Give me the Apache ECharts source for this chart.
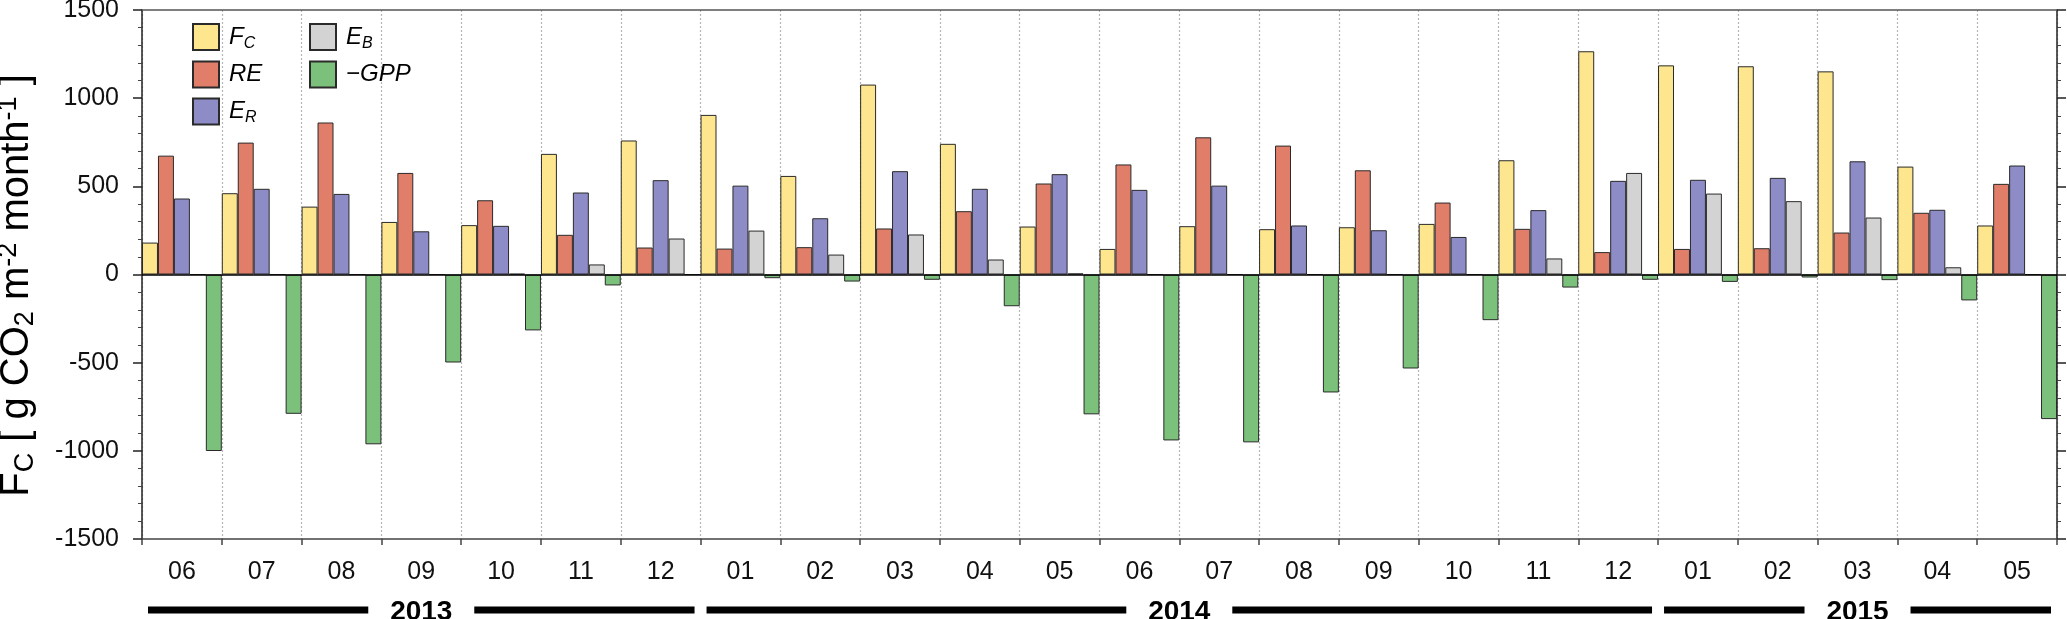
<!DOCTYPE html>
<html>
<head>
<meta charset="utf-8">
<script src="https://cdn.jsdelivr.net/npm/echarts@6/dist/echarts.min.js"></script>
<style>
html,body{margin:0;padding:0;background:#fff;}
#chart{width:2067px;height:619px;}
</style>
</head>
<body>
<div id="chart"></div>
<script>
const months = ['06','07','08','09','10','11','12','01','02','03','04','05','06','07','08','09','10','11','12','01','02','03','04','05'];
const FC  = [181, 461, 385, 298, 280, 684, 760, 905, 559, 1077, 741, 272, 145, 274, 257, 268, 287, 648, 1266, 1186, 1181, 1152, 612, 278];
const RE  = [674, 748, 862, 576, 421, 225, 153, 147, 155, 261, 359, 516, 624, 778, 731, 591, 408, 259, 127, 145, 149, 238, 350, 514];
const ER  = [431, 486, 457, 245, 276, 465, 535, 504, 319, 586, 486, 569, 480, 504, 278, 251, 213, 365, 531, 537, 548, 642, 367, 618];
const EB  = [0, 0, 0, 0, 4, 57, 204, 249, 113, 227, 85, 6, 0, 0, 0, 0, 0, 91, 576, 459, 416, 323, 41, 0];
const GPP = [-1001, -790, -963, -499, -317, -62, 0, -21, -40, -30, -180, -793, -941, -952, -669, -533, -259, -74, -30, -42, -17, -32, -147, -820];
const yTicks = [-1500, -1000, -500, 0, 500, 1000, 1500];
const yearLabels = ['2013', '2014', '2015'];
const yearFirstMonth = [0, 7, 19];
const yearLastMonth = [6, 18, 23];

const FONT = "'Liberation Sans', Arial, sans-serif";
const seriesNames = ['F_C', 'RE', 'E_R', 'E_B', '\u2212GPP'];
const seriesData = [FC, RE, ER, EB, GPP];
const colors = ['#FDE68E', '#E07E6A', '#8D8CC7', '#D3D3D3', '#7CC17B'];
const legendRich = {
  i: {fontStyle: 'italic', fontSize: 24, fontFamily: FONT, color: '#000'},
  s: {fontStyle: 'italic', fontSize: 16, fontFamily: FONT, color: '#000', padding: [13, 0, 0, 0]}
};
function legendFmt(name) {
  if (name.indexOf('_') > 0) {
    const p = name.split('_');
    return '{i|' + p[0] + '}{s|' + p[1] + '}';
  }
  return '{i|' + name + '}';
}

const chart = echarts.init(document.getElementById('chart'), null, {renderer: 'canvas'});
const series = seriesNames.map((n, k) => ({
  name: n,
  type: 'bar',
  data: seriesData[k],
  barGap: '0%',
  barCategoryGap: '0%',
  itemStyle: {color: colors[k], borderColor: '#2a2a2a', borderWidth: 1},
  emphasis: {disabled: true},
  markLine: k === 0 ? {
    silent: true, symbol: 'none', label: {show: false},
    lineStyle: {color: '#000', width: 1.5, type: 'solid'},
    data: [{yAxis: 0}]
  } : undefined
}));

const yAxisCommon = {
  type: 'value', min: yTicks[0], max: yTicks[yTicks.length - 1], interval: 500,
  axisLine: {show: true, lineStyle: {color: '#222', width: 1.5}},
  axisTick: {show: true, inside: false, length: 9, lineStyle: {color: '#222', width: 1.5}},
  minorTick: {show: true, splitNumber: 5, length: 4, lineStyle: {color: '#444', width: 1}},
  splitLine: {show: false}
};

chart.setOption({
  animation: false,
  backgroundColor: '#fff',
  grid: {left: 142, right: 10, top: 10, bottom: 80, outerBoundsMode: 'none'},
  legend: [
    {orient: 'vertical', left: 192, top: 23, padding: 0, itemWidth: 26, itemHeight: 26, itemGap: 9,
     icon: 'rect', data: seriesNames.slice(0, 3), formatter: legendFmt, selectedMode: false,
     textStyle: {rich: legendRich, padding: [0, 0, 0, 5]}},
    {orient: 'vertical', left: 309, top: 23, padding: 0, itemWidth: 26, itemHeight: 26, itemGap: 9,
     icon: 'rect', data: seriesNames.slice(3), formatter: legendFmt, selectedMode: false,
     textStyle: {rich: legendRich, padding: [0, 0, 0, 5]}}
  ],
  xAxis: [
    {type: 'category', data: months, position: 'bottom', boundaryGap: true,
     axisLine: {show: true, onZero: false, lineStyle: {color: '#444', width: 1.5}},
     axisTick: {show: true, length: 6, interval: 0, lineStyle: {color: '#444', width: 1.5}},
     axisLabel: {fontSize: 25, color: '#111', fontFamily: FONT, margin: 21, interval: 0},
     splitLine: {show: true, interval: 0, lineStyle: {color: '#b5b5b5', width: 1.2, type: [2, 2]}}},
    {type: 'category', data: months, position: 'top', boundaryGap: true,
     axisLine: {show: true, onZero: false, lineStyle: {color: '#555', width: 1.5}},
     axisTick: {show: false}, axisLabel: {show: false}, splitLine: {show: false}}
  ],
  yAxis: [
    Object.assign({}, yAxisCommon, {
      position: 'left',
      axisLabel: {fontSize: 25, color: '#111', fontFamily: FONT, margin: 23,
                  formatter: function (v) { return String(v); }},
      name: '{m|F}{s|C}{m| [ g CO}{s|2}{m| m}{p|-2}{m| month}{p|-1}{m| ]}',
      nameLocation: 'middle', nameGap: 103, nameRotate: 90,
      nameTextStyle: {
        fontSize: 40, color: '#000', fontFamily: FONT, padding: [0, 22, 0, 0],
        rich: {
          m: {fontSize: 40, fontFamily: FONT, color: '#000'},
          s: {fontSize: 27, fontFamily: FONT, color: '#000', padding: [17, 0, 0, 0]},
          p: {fontSize: 27, fontFamily: FONT, color: '#000', padding: [0, 0, 17, 0]}
        }
      }
    }),
    Object.assign({}, yAxisCommon, {position: 'right', axisLabel: {show: false}})
  ],
  series: series
});

// Year annotation row below the month labels, positioned from the category axis
const x0 = chart.convertToPixel({xAxisIndex: 0}, 0);
const x1 = chart.convertToPixel({xAxisIndex: 0}, 1);
const band = x1 - x0;
const yBottom = chart.convertToPixel({yAxisIndex: 0}, yTicks[0]);
const lineY = yBottom + 71;
const gapHalf = 53;
const inset = 6;
const graphics = [];
yearLabels.forEach((lab, i) => {
  const left = chart.convertToPixel({xAxisIndex: 0}, yearFirstMonth[i]) - band / 2;
  const right = chart.convertToPixel({xAxisIndex: 0}, yearLastMonth[i]) + band / 2;
  const c = (left + right) / 2;
  graphics.push({type: 'line', silent: true, shape: {x1: left + inset, y1: lineY, x2: c - gapHalf, y2: lineY},
    style: {stroke: '#000', lineWidth: 7}});
  graphics.push({type: 'line', silent: true, shape: {x1: c + gapHalf, y1: lineY, x2: right - inset, y2: lineY},
    style: {stroke: '#000', lineWidth: 7}});
  graphics.push({type: 'text', silent: true, x: c, y: lineY + 2,
    style: {text: lab, fontSize: 28, fontWeight: 'bold', fontFamily: FONT, fill: '#000',
      align: 'center', verticalAlign: 'middle'}});
});
chart.setOption({graphic: graphics});
</script>
</body>
</html>
